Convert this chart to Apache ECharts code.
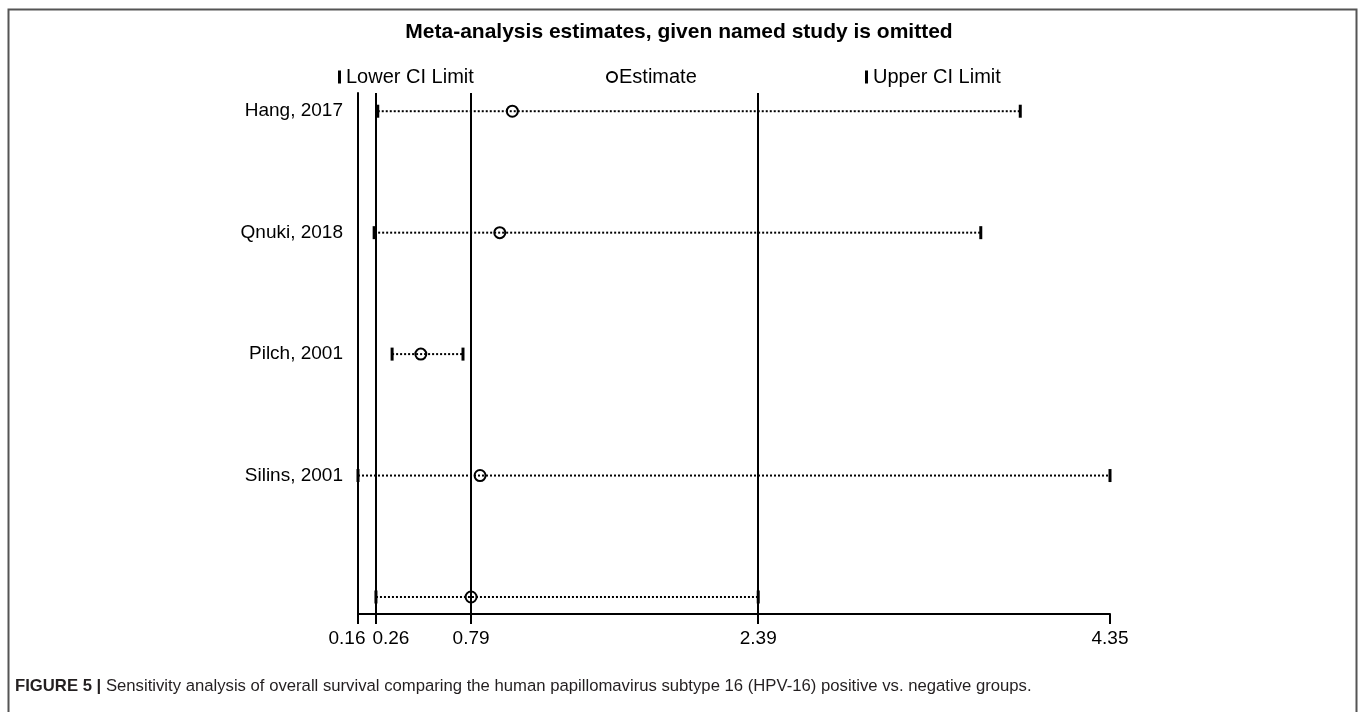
<!DOCTYPE html>
<html>
<head>
<meta charset="utf-8">
<script src="https://cdn.jsdelivr.net/npm/echarts@6/dist/echarts.min.js"></script>
<style>
html,body{margin:0;padding:0;background:#fff;}
#chart{width:1358px;height:712px;}
</style>
</head>
<body>
<div id="chart"></div>
<script>
// ---- data ----
const studies   = ['Hang, 2017', 'Qnuki, 2018', 'Pilch, 2001', 'Silins, 2001', ''];
const estimates = [1.02, 0.95, 0.51, 0.84, 0.79];
const lowerCI   = [0.27, 0.25, 0.35, 0.16, 0.26];
const upperCI   = [3.85, 3.63, 0.745, 4.35, 2.39];
const tickValues = [0.16, 0.26, 0.79, 2.39, 4.35];
const refLines  = [0.26, 0.79, 2.39];
const titleText = 'Meta-analysis estimates, given named study is omitted';
const captionBold = 'FIGURE 5 |';
const captionText = 'Sensitivity analysis of overall survival comparing the human papillomavirus subtype 16 (HPV-16) positive vs. negative groups.';

const FONT = '"Liberation Sans", Arial, sans-serif';
const chart = echarts.init(document.getElementById('chart'));

const rows = studies.map((s, i) => i);
const ciData = rows.map(i => [lowerCI[i], upperCI[i], i]);

const option = {
  animation: false,
  backgroundColor: '#fff',
  title: {
    text: titleText,
    left: 'center',
    top: 17,
    textStyle: { fontFamily: FONT, fontSize: 21, fontWeight: 'bold', color: '#000' }
  },
  legend: [
    { data: ['Lower CI Limit'], left: 333, top: 62, icon: 'rect', itemWidth: 3, itemHeight: 13,
      textStyle: { fontFamily: FONT, fontSize: 20, color: '#000' } },
    { data: ['Estimate'], left: 601, top: 62, itemWidth: 10, itemHeight: 10, itemGap: 0,
      textStyle: { fontFamily: FONT, fontSize: 20, color: '#000', padding: [0, 0, 0, -3] } },
    { data: ['Upper CI Limit'], left: 860, top: 62, icon: 'rect', itemWidth: 3, itemHeight: 13,
      textStyle: { fontFamily: FONT, fontSize: 20, color: '#000' } }
  ],
  grid: { left: 358, right: 248, top: 93, bottom: 98 },
  xAxis: {
    type: 'value', min: 0.16, max: 4.35, position: 'bottom',
    axisLine: { show: true, onZero: false, lineStyle: { color: '#000', width: 2 } },
    axisTick: { show: true, customValues: tickValues, length: 10, inside: false, lineStyle: { color: '#000', width: 2 } },
    axisLabel: {
      show: true, customValues: tickValues, margin: 15,
      fontFamily: FONT, fontSize: 19, color: '#000',
      formatter: function (v) {
        const t = v.toFixed(2);
        if (Math.abs(v - tickValues[0]) < 1e-6) return '{l|' + t + '}';
        if (Math.abs(v - tickValues[1]) < 1e-6) return '{r|' + t + '}';
        return t;
      },
      rich: {
        l: { fontFamily: FONT, fontSize: 19, color: '#000', padding: [0, 22, 0, 0] },
        r: { fontFamily: FONT, fontSize: 19, color: '#000', padding: [0, 0, 0, 30] }
      }
    },
    splitLine: { show: false }
  },
  yAxis: {
    type: 'value', min: -0.15, max: 4.14, inverse: true, position: 'left',
    axisLine: { show: true, onZero: false, lineStyle: { color: '#000', width: 2 } },
    axisTick: { show: false }, axisLabel: { show: false }, splitLine: { show: false }
  },
  series: [
    {
      name: 'ci', type: 'custom', z: 2,
      renderItem: function (params, api) {
        const p1 = api.coord([api.value(0), api.value(2)]);
        const p2 = api.coord([api.value(1), api.value(2)]);
        return {
          type: 'line',
          shape: { x1: p1[0], y1: p1[1], x2: p2[0], y2: p2[1] },
          style: { stroke: '#000', lineWidth: 2, lineDash: [2, 2] }
        };
      },
      data: ciData,
      markLine: {
        silent: true, symbol: 'none', label: { show: false },
        lineStyle: { color: '#000', width: 2, type: 'solid' },
        data: refLines.map(v => ({ xAxis: v }))
      }
    },
    {
      name: 'Lower CI Limit', type: 'scatter', z: 3,
      symbol: 'rect', symbolSize: [3, 13],
      itemStyle: { color: '#000', opacity: 1 },
      data: rows.map(i => [lowerCI[i], i])
    },
    {
      name: 'Upper CI Limit', type: 'scatter', z: 3,
      symbol: 'rect', symbolSize: [3, 13],
      itemStyle: { color: '#000', opacity: 1 },
      data: rows.map(i => [upperCI[i], i])
    },
    {
      name: 'Estimate', type: 'scatter', z: 4,
      symbol: 'circle', symbolSize: 11,
      itemStyle: { color: 'rgba(0,0,0,0)', borderColor: '#000', borderWidth: 2, opacity: 1 },
      data: rows.map(i => [estimates[i], i])
    },
    {
      name: 'names', type: 'scatter', z: 5, symbolSize: 0, silent: true,
      itemStyle: { opacity: 1 },
      label: { show: true, position: 'left', distance: 15, formatter: p => studies[p.dataIndex],
        fontFamily: FONT, fontSize: 19, color: '#000' },
      data: rows.map(i => [tickValues[0], i])
    }
  ],
  graphic: [
    { type: 'rect', left: 6, top: 7, shape: { width: 1348, height: 720 },
      style: { fill: null, stroke: '#555', lineWidth: 2 }, silent: true },
    { type: 'text', left: 15, top: 678,
      style: { text: '{b|' + captionBold + '} ' + captionText,
        font: '16.7px ' + FONT, fill: '#231f20',
        rich: { b: { fontFamily: FONT, fontSize: 16.7, fontWeight: 'bold', fill: '#231f20' } } } }
  ]
};
chart.setOption(option);
</script>
</body>
</html>
